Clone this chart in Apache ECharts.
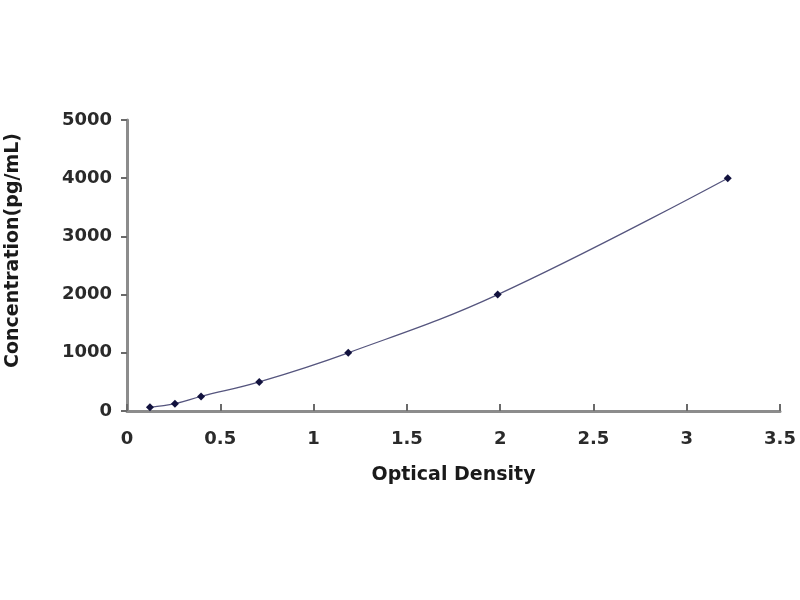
<!DOCTYPE html>
<html>
<head>
<meta charset="utf-8">
<script src="https://cdn.jsdelivr.net/npm/echarts@6/dist/echarts.min.js"></script>
<style>
  html, body { margin: 0; padding: 0; background: #fff; }
  #chart { width: 800px; height: 600px; }
</style>
</head>
<body>
<div id="chart"></div>
<script>
// standard curve: optical density vs concentration
var odValues = [0.123, 0.257, 0.397, 0.709, 1.186, 1.987, 3.22];
var concValues = [62.5, 125, 250, 500, 1000, 2000, 4000];
var xTicks = [0, 0.5, 1, 1.5, 2, 2.5, 3, 3.5];
var yTicks = [0, 1000, 2000, 3000, 4000, 5000];

var points = [];
for (var i = 0; i < odValues.length; i++) {
    points.push([odValues[i], concValues[i]]);
}

var axisFont = 'DejaVu Sans';
var myChart = echarts.init(document.getElementById('chart'));
var option = {
    animation: false,
    grid: { left: 127, right: 20, top: 120, bottom: 189, outerBoundsMode: 'none' },
    xAxis: {
        type: 'value',
        min: xTicks[0],
        max: xTicks[xTicks.length - 1],
        interval: 0.5,
        name: 'Optical Density',
        nameLocation: 'middle',
        nameGap: 55,
        nameTextStyle: { fontFamily: axisFont, fontWeight: 'bold', fontSize: 19, color: '#1a1a1a' },
        axisLine: { lineStyle: { color: '#8c8c8c', width: 3 } },
        axisTick: { inside: true, length: 7, lineStyle: { color: '#6a6a6a', width: 2 } },
        axisLabel: { margin: 19, fontFamily: axisFont, fontWeight: 'bold', fontSize: 18, color: '#2a2a2a',
            formatter: function (v) { return String(v); } },
        splitLine: { show: false }
    },
    yAxis: {
        type: 'value',
        min: yTicks[0],
        max: yTicks[yTicks.length - 1],
        interval: 1000,
        name: 'Concentration(pg/mL)',
        nameLocation: 'middle',
        nameGap: 104,
        nameTextStyle: { fontFamily: axisFont, fontWeight: 'bold', fontSize: 19, color: '#1a1a1a', padding: [0, 0, 0, 30] },
        axisLine: { show: true, lineStyle: { color: '#8c8c8c', width: 3 } },
        axisTick: { show: true, length: 6, lineStyle: { color: '#6a6a6a', width: 2 } },
        axisLabel: { margin: 15, fontFamily: axisFont, fontWeight: 'bold', fontSize: 18, color: '#2a2a2a',
            formatter: function (v) { return String(v); } },
        splitLine: { show: false }
    },
    series: [{
        type: 'line',
        data: points,
        smooth: 0.4,
        symbol: 'diamond',
        symbolSize: 8,
        itemStyle: { color: '#12123e' },
        lineStyle: { color: '#55557e', width: 1.3 }
    }]
};
myChart.setOption(option);
</script>
</body>
</html>
